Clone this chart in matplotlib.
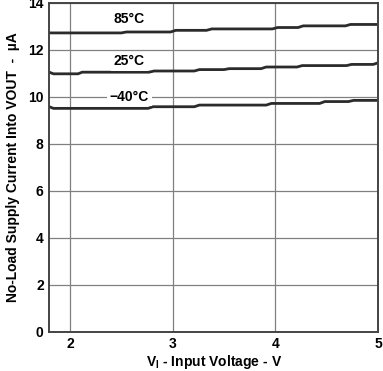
import matplotlib
matplotlib.use("Agg")
import matplotlib.pyplot as plt

plt.rcParams['font.family'] = ['Liberation Sans', 'DejaVu Sans']
plt.rcParams['font.weight'] = 'bold'
plt.rcParams['mathtext.fontset'] = 'custom'
plt.rcParams['mathtext.rm'] = 'Liberation Sans:bold'
plt.rcParams['mathtext.it'] = 'Liberation Sans:bold'
plt.rcParams['mathtext.bf'] = 'Liberation Sans:bold'

# Data
x85 = [1.80, 2.50, 2.55, 2.98, 3.03, 3.33, 3.38, 3.97, 4.02, 4.22, 4.27, 4.68, 4.73, 5.00]
y85 = [12.71, 12.71, 12.75, 12.75, 12.82, 12.82, 12.88, 12.88, 12.94, 12.94, 13.01, 13.01, 13.07, 13.07]

x25 = [1.80, 1.84, 2.08, 2.12, 2.77, 2.82, 3.21, 3.26, 3.50, 3.55, 3.86, 3.91, 4.21, 4.26, 4.69, 4.74, 4.95, 5.00]
y25 = [11.04, 10.97, 10.97, 11.04, 11.04, 11.09, 11.09, 11.15, 11.15, 11.19, 11.19, 11.26, 11.26, 11.32, 11.32, 11.37, 11.37, 11.44]

xm40 = [1.80, 1.84, 2.76, 2.81, 3.21, 3.26, 3.91, 3.96, 4.43, 4.48, 4.71, 4.76, 5.00]
ym40 = [9.57, 9.50, 9.50, 9.57, 9.57, 9.64, 9.64, 9.71, 9.71, 9.79, 9.79, 9.84, 9.84]

labels = ["85°C", "25°C", "\u221240°C"]
label_x = [2.58, 2.58, 2.58]
label_y = [13.3, 11.5, 10.0]

xticks = [2, 3, 4, 5]
yticks = [0, 2, 4, 6, 8, 10, 12, 14]

fig = plt.figure(figsize=(3.83, 3.71), dpi=100)
ax = fig.add_axes([0.1287, 0.106, 0.859, 0.887])
ax.set_xlim(1.8, 5.0)
ax.set_ylim(0, 14)
ax.set_xticks(xticks)
ax.set_yticks(yticks)
ax.grid(True, color='#808080', linewidth=0.9)
ax.set_axisbelow(True)
ax.tick_params(length=0, labelsize=10, pad=4)
for lab in ax.get_xticklabels() + ax.get_yticklabels():
    lab.set_fontweight('bold')
for s in ax.spines.values():
    s.set_color('#444444')
    s.set_linewidth(1.4)

lc = '#2b2b2b'
ax.plot(x85, y85, color=lc, linewidth=2.0)
ax.plot(x25, y25, color=lc, linewidth=2.0)
ax.plot(xm40, ym40, color=lc, linewidth=2.0)

for t, lx, ly in zip(labels, label_x, label_y):
    ax.text(lx, ly, t, ha='center', va='center', fontsize=10, fontweight='bold',
            bbox=dict(facecolor='white', edgecolor='none', pad=2), zorder=3)

ax.set_xlabel(r"V$_\mathrm{I}$ - Input Voltage - V", fontsize=10, fontweight='bold', labelpad=1)
ax.set_ylabel("No-Load Supply Current Into VOUT  -  \u00b5A", fontsize=10, fontweight='bold', labelpad=6)

fig.savefig("out.png", dpi=100)
